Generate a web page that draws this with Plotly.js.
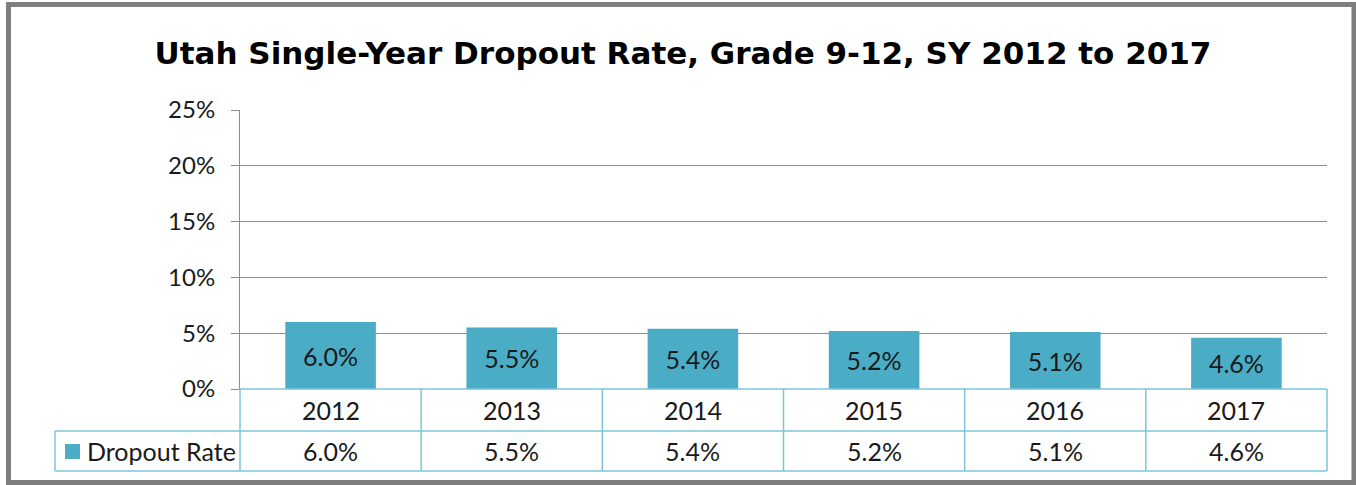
<!DOCTYPE html>
<html>
<head>
<meta charset="utf-8">
<script src="https://cdn.plot.ly/plotly-3.0.1.min.js"></script>
<style>html,body{margin:0;padding:0;background:#fff;}#chart{width:1356px;height:485px;}</style>
</head>
<body>
<div id="chart"></div>
<script>
// ---- data ----
const years = ['2012', '2013', '2014', '2015', '2016', '2017'];
const rates = [6.0, 5.5, 5.4, 5.2, 5.1, 4.6];
const yTickVals = [0, 5, 10, 15, 20, 25];
const yTickText = ['0%', '5%', '10%', '15%', '20%', '25%'];
const seriesName = 'Dropout Rate';
const chartTitle = 'Utah Single-Year Dropout Rate, Grade 9-12, SY 2012 to 2017';

// ---- style ----
const FONT = 'Lato, "Open Sans", "Liberation Sans", Arial, sans-serif';
const TFONT = '"DejaVu Sans", Lato, sans-serif';
const BAR = '#4bacc6';
const TABLE = '#7cc4d8';
const GRID = '#8c8c8c';
const TXT = '#1a1a1a';
const FS = 25;
const TICKFS = 24;

const W = 1356, H = 485;
const L = 240, R = 29, T = 110, B = 96;
const plotW = W - L - R, plotH = H - T - B;
const px = x => (x - L) / plotW;
const py = y => (H - B - y) / plotH;

const fmt = v => v.toFixed(1) + '%';

const shapes = [];
const annotations = [];
const n = years.length;

// table horizontal lines
shapes.push({type: 'line', xref: 'paper', yref: 'paper', x0: 0, x1: 1, y0: 0, y1: 0, line: {color: TABLE, width: 1.5}, layer: 'above'});
shapes.push({type: 'line', xref: 'paper', yref: 'paper', x0: px(55), x1: 1, y0: py(431), y1: py(431), line: {color: TABLE, width: 1.5}});
shapes.push({type: 'line', xref: 'paper', yref: 'paper', x0: px(55), x1: 1, y0: py(471), y1: py(471), line: {color: TABLE, width: 1.5}});
// table vertical lines (category boundaries)
for (let i = 0; i <= n; i++) {
  shapes.push({type: 'line', xref: 'paper', yref: 'paper', x0: i / n, x1: i / n, y0: 0, y1: py(471), line: {color: TABLE, width: 1.5}});
}
shapes.push({type: 'line', xref: 'paper', yref: 'paper', x0: px(55), x1: px(55), y0: py(431), y1: py(471), line: {color: TABLE, width: 1.5}});
// legend swatch
shapes.push({type: 'rect', xref: 'paper', yref: 'paper', x0: px(65), x1: px(80), y0: py(459), y1: py(444), fillcolor: BAR, line: {width: 0}});
// outer frame
shapes.push({type: 'rect', xref: 'paper', yref: 'paper', x0: px(8.5), x1: px(1354), y0: py(4.5), y1: py(482.5), line: {color: '#7f7f7f', width: 5}, fillcolor: 'rgba(0,0,0,0)'});

years.forEach((yr, i) => {
  annotations.push({xref: 'paper', yref: 'paper', x: (i + 0.5) / n, y: py(410), text: yr, showarrow: false, font: {family: FONT, size: FS, color: TXT}, xanchor: 'center', yanchor: 'middle'});
  annotations.push({xref: 'paper', yref: 'paper', x: (i + 0.5) / n, y: py(451), text: fmt(rates[i]), showarrow: false, font: {family: FONT, size: FS, color: TXT}, xanchor: 'center', yanchor: 'middle'});
});
annotations.push({xref: 'paper', yref: 'paper', x: px(85), y: py(451), text: seriesName, showarrow: false, font: {family: FONT, size: FS, color: TXT}, xanchor: 'left', yanchor: 'middle'});

const trace = {
  type: 'bar',
  x: years,
  y: rates,
  name: seriesName,
  marker: {color: BAR, line: {width: 0}},
  width: 0.5,
  text: rates.map(fmt),
  textposition: 'inside',
  insidetextanchor: 'middle',
  textangle: 0,
  textfont: {family: FONT, size: FS, color: TXT},
  constraintext: 'none',
  hoverinfo: 'skip'
};

const layout = {
  width: W, height: H,
  margin: {l: L, r: R, t: T, b: B, pad: 0},
  paper_bgcolor: '#ffffff',
  plot_bgcolor: '#ffffff',
  showlegend: false,
  title: {
    text: '<b>' + chartTitle + '</b>',
    font: {family: TFONT, size: 31, color: '#000000'},
    x: 683 / W, xanchor: 'center', xref: 'container',
    y: 1 - 53 / H, yanchor: 'middle', yref: 'container'
  },
  xaxis: {
    type: 'category',
    range: [-0.5, n - 0.5],
    showticklabels: false,
    showgrid: false, zeroline: false, showline: false, ticks: ''
  },
  yaxis: {
    range: [0, 25],
    tickvals: yTickVals,
    ticktext: yTickText,
    showgrid: true, gridcolor: GRID, gridwidth: 1,
    zeroline: false,
    showline: true, linecolor: GRID, linewidth: 1,
    ticks: 'outside', ticklen: 8, tickcolor: GRID, tickwidth: 1,
    ticklabelstandoff: 11,
    tickfont: {family: FONT, size: TICKFS, color: TXT}
  },
  shapes: shapes,
  annotations: annotations
};

Plotly.newPlot('chart', [trace], layout, {displayModeBar: false, staticPlot: true});
</script>
</body>
</html>
